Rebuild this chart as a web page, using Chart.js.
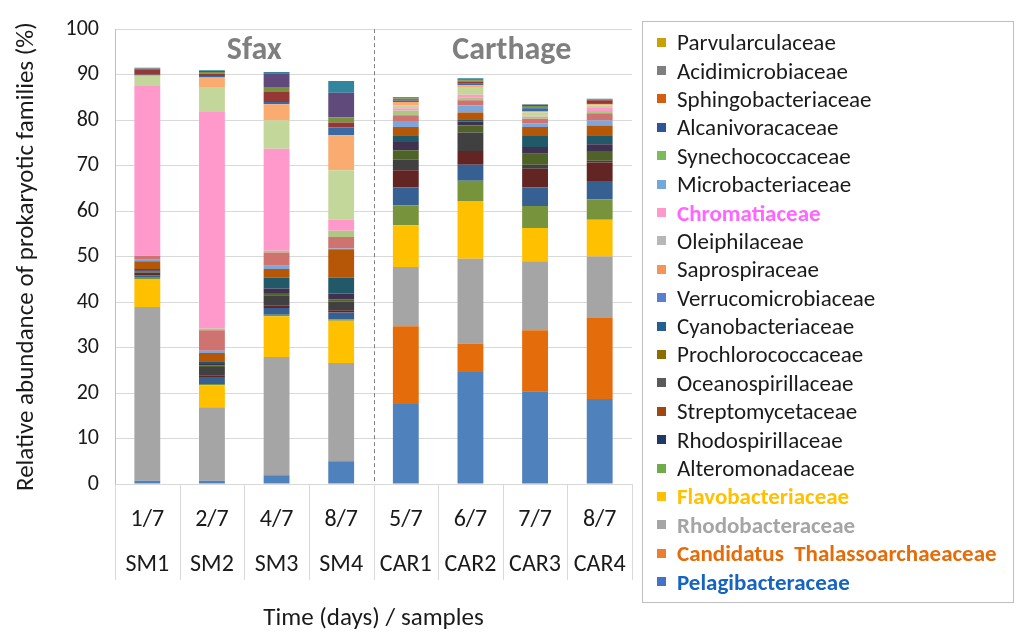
<!DOCTYPE html>
<html>
<head>
<meta charset="utf-8">
<script src="https://cdn.jsdelivr.net/npm/chart.js@4.4.1/dist/chart.umd.min.js"></script>
<style>
  html, body { margin: 0; padding: 0; background: #fff; }
  #wrap { position: relative; width: 1017px; height: 634px; }
  #chart { position: absolute; left: 0; top: 0; }
  #legend {
    position: absolute; left: 642px; top: 21px; width: 372px; height: 582px;
    box-sizing: border-box; border: 1px solid #bfbfbf; padding-top: 6px;
    font-family: Carlito, Lato, sans-serif; font-size: 23px; color: #1a1a1a;
  }
  .item { height: 28.4px; display: flex; align-items: center; padding-left: 14px; white-space: nowrap; }
  .box { width: 9px; height: 9px; margin-right: 11px; flex: none; }
</style>
</head>
<body>
<div id="wrap">
  <canvas id="chart" width="1017" height="634"></canvas>
  <div id="legend"></div>
</div>
<script>
const dates   = ['1/7', '2/7', '4/7', '8/7', '5/7', '6/7', '7/7', '8/7'];
const samples = ['SM1', 'SM2', 'SM3', 'SM4', 'CAR1', 'CAR2', 'CAR3', 'CAR4'];
const sites   = ['Sfax', 'Carthage'];
const yTicks  = [0, 10, 20, 30, 40, 50, 60, 70, 80, 90, 100];

// relative abundance (%) per sample, stacked from the bottom
const pelagibacteraceae   = [0.7, 0.7, 1.9, 5.0, 17.6, 24.6, 20.4, 18.7];
const thalassoarchaeaceae = [0, 0, 0, 0, 17.1, 6.3, 13.4, 17.8];
const rhodobacteraceae    = [38.2, 16.2, 26.0, 21.6, 13.0, 18.6, 15.2, 13.5];
const flavobacteriaceae   = [6.2, 4.8, 9.0, 9.3, 9.2, 12.7, 7.3, 8.1];
const alteromonadaceae    = [0.4, 0.3, 0.3, 0.3, 4.4, 4.5, 4.8, 4.5];
const rhodospirillaceae   = [0.4, 1.5, 1.5, 1.5, 3.9, 3.5, 4.1, 4.0];
const streptomycetaceae   = [0.3, 0.4, 0.5, 0.5, 3.8, 3.0, 4.1, 4.1];
const oceanospirillaceae  = [0.3, 1.8, 2.3, 1.9, 2.3, 4.1, 0.9, 0.4];
const prochlorococcaceae  = [0.3, 0.4, 0.5, 0.5, 2.1, 1.5, 2.4, 2.1];
const cyanobacteriaceae   = [0.2, 0.3, 1.0, 1.3, 1.8, 0.9, 1.5, 1.5];
const verrucomicrobiaceae = [0.3, 0.6, 2.4, 3.5, 1.5, 0.5, 2.4, 2.0];
const saprospiraceae      = [1.7, 1.8, 1.9, 6.2, 1.8, 1.5, 2.0, 2.1];
const oleiphilaceae       = [0.3, 0.5, 0.7, 0.2, 1.3, 1.5, 0.8, 1.1];
const microbacteriaceae   = [0.9, 4.5, 2.9, 2.5, 1.3, 1.2, 1.0, 1.6];
const synechococcaceae    = [0.1, 0.4, 0.4, 1.4, 1.0, 0.5, 0.5, 0.5];
const chromatiaceae       = [37.2, 47.6, 22.4, 2.4, 0.5, 0.7, 0.2, 0.7];
const alcanivoracaceae    = [2.2, 5.5, 6.2, 10.9, 0.7, 1.7, 0.7, 0.5];
const sphingobacteriaceae = [0.1, 2.1, 3.6, 7.7, 0.7, 0.4, 0.2, 0.3];
const acidimicrobiaceae   = [0.2, 0.3, 0.5, 1.7, 0.3, 0.3, 0.7, 0.3];
const parvularculaceae    = [1.2, 0.5, 2.2, 1.1, 0.3, 0.5, 0.2, 0.6];
const otherA              = [0.1, 0.4, 1.1, 1.1, 0.2, 0.3, 0.3, 0.1];
const otherB              = [0.1, 0.2, 3.0, 5.4, 0.2, 0.2, 0.3, 0.1];
const otherC              = [0.1, 0.2, 0.3, 2.6, 0.1, 0.2, 0.1, 0.1];

const series = [
  ['Pelagibacteraceae', pelagibacteraceae, '#4F81BD'],
  ['Candidatus Thalassoarchaeaceae', thalassoarchaeaceae, '#E46C0A'],
  ['Rhodobacteraceae', rhodobacteraceae, '#A5A5A5'],
  ['Flavobacteriaceae', flavobacteriaceae, '#FFC000'],
  ['Alteromonadaceae', alteromonadaceae, '#77933C'],
  ['Rhodospirillaceae', rhodospirillaceae, '#376092'],
  ['Streptomycetaceae', streptomycetaceae, '#632523'],
  ['Oceanospirillaceae', oceanospirillaceae, '#404040'],
  ['Prochlorococcaceae', prochlorococcaceae, '#4F6228'],
  ['Cyanobacteriaceae', cyanobacteriaceae, '#403151'],
  ['Verrucomicrobiaceae', verrucomicrobiaceae, '#215968'],
  ['Saprospiraceae', saprospiraceae, '#B65708'],
  ['Oleiphilaceae', oleiphilaceae, '#7EA6DA'],
  ['Microbacteriaceae', microbacteriaceae, '#CF7370'],
  ['Synechococcaceae', synechococcaceae, '#AFC785'],
  ['Chromatiaceae', chromatiaceae, '#FF99CC'],
  ['Alcanivoracaceae', alcanivoracaceae, '#C4D79B'],
  ['Sphingobacteriaceae', sphingobacteriaceae, '#FAAB70'],
  ['Acidimicrobiaceae', acidimicrobiaceae, '#3A6AA3'],
  ['Parvularculaceae', parvularculaceae, '#953735'],
  ['Other A', otherA, '#77933C'],
  ['Other B', otherB, '#604A7B'],
  ['Other C', otherC, '#31859C'],
];

// legend as printed in the figure (top to bottom)
const legendNames = ['Parvularculaceae', 'Acidimicrobiaceae', 'Sphingobacteriaceae', 'Alcanivoracaceae',
  'Synechococcaceae', 'Microbacteriaceae', 'Chromatiaceae', 'Oleiphilaceae', 'Saprospiraceae',
  'Verrucomicrobiaceae', 'Cyanobacteriaceae', 'Prochlorococcaceae', 'Oceanospirillaceae',
  'Streptomycetaceae', 'Rhodospirillaceae', 'Alteromonadaceae', 'Flavobacteriaceae',
  'Rhodobacteraceae', 'Candidatus\u00a0 Thalassoarchaeaceae', 'Pelagibacteraceae'];
const legendColors = ['#C9A005', '#7F7F7F', '#D45E0E', '#2F5597', '#7DBB5A', '#72A8DA', '#FF99CC',
  '#B7B7B7', '#F4945A', '#5B7FCF', '#255E91', '#8C6D00', '#5A5A5A', '#9E480E', '#203864',
  '#6FAC46', '#FFC000', '#A5A5A5', '#ED7D31', '#4472C4'];
const legendText = {
  'Chromatiaceae': '#FF66FF', 'Flavobacteriaceae': '#FFC000', 'Rhodobacteraceae': '#A5A5A5',
  'Candidatus\u00a0 Thalassoarchaeaceae': '#E46C0A', 'Pelagibacteraceae': '#1565C0'
};

const legendEl = document.getElementById('legend');
legendNames.forEach((name, i) => {
  const row = document.createElement('div');
  row.className = 'item';
  const box = document.createElement('span');
  box.className = 'box';
  box.style.background = legendColors[i];
  const txt = document.createElement('span');
  txt.textContent = name;
  if (legendText[name]) { txt.style.color = legendText[name]; txt.style.fontWeight = 'bold'; }
  row.appendChild(box);
  row.appendChild(txt);
  legendEl.appendChild(row);
});

const FONT = 'Carlito, Lato, sans-serif';

const decor = {
  id: 'decor',
  afterDraw(chart) {
    const { ctx, chartArea, scales: { x } } = chart;
    const half = (x.getPixelForValue(1) - x.getPixelForValue(0)) / 2;
    ctx.save();
    // category separators under the axis
    ctx.strokeStyle = '#d9d9d9';
    ctx.lineWidth = 1;
    for (let i = 0; i <= samples.length; i++) {
      const px = Math.round(x.getPixelForValue(i) - half) + 0.5;
      ctx.beginPath();
      ctx.moveTo(px, chartArea.bottom);
      ctx.lineTo(px, chartArea.bottom + 96);
      ctx.stroke();
    }
    // dashed split between sites
    const split = Math.round(x.getPixelForValue(3) + half) + 0.5;
    ctx.strokeStyle = '#808080';
    ctx.setLineDash([4, 3]);
    ctx.beginPath();
    ctx.moveTo(split, chartArea.top);
    ctx.lineTo(split, chartArea.bottom);
    ctx.stroke();
    ctx.setLineDash([]);
    // site names
    ctx.fillStyle = '#7f7f7f';
    ctx.font = 'bold 32px ' + FONT;
    ctx.textAlign = 'center';
    ctx.textBaseline = 'middle';
    ctx.fillText(sites[0], (x.getPixelForValue(1) + x.getPixelForValue(2)) / 2 + 10, chartArea.top + 22);
    ctx.fillText(sites[1], (x.getPixelForValue(5) + x.getPixelForValue(6)) / 2 + 9, chartArea.top + 22);
    ctx.restore();
  }
};

new Chart(document.getElementById('chart'), {
  type: 'bar',
  data: {
    labels: dates.map((d, i) => [d, samples[i]]),
    datasets: series.map(([label, data, color]) => ({
      label, data, backgroundColor: color, borderWidth: 0,
      barPercentage: 0.4, categoryPercentage: 1.0
    }))
  },
  options: {
    responsive: false,
    animation: false,
    layout: { padding: { top: 21, right: 385, left: 0, bottom: 0 } },
    plugins: { legend: { display: false }, tooltip: { enabled: false } },
    scales: {
      x: {
        stacked: true,
        grid: { display: false },
        border: { display: true, color: '#d9d9d9' },
        afterFit: (scale) => { scale.height = 150; },
        ticks: {
          color: '#1a1a1a', padding: 5, maxRotation: 0, autoSkip: false,
          font: { family: FONT, size: 24, lineHeight: 1.875 }
        },
        title: {
          display: true, text: 'Time (days) / samples', color: '#1a1a1a',
          font: { family: FONT, size: 25 }, padding: { top: 0, bottom: 0 }
        }
      },
      y: {
        stacked: true,
        min: 0, max: 100,
        afterFit: (scale) => { scale.width = 115; },
        afterBuildTicks: (scale) => { scale.ticks = yTicks.map(v => ({ value: v })); },
        grid: { color: '#d9d9d9', drawTicks: false },
        border: { display: true, color: '#bfbfbf' },
        ticks: { color: '#1a1a1a', padding: 16, font: { family: FONT, size: 22 } },
        title: {
          display: true, text: 'Relative abundance of prokaryotic families (%)', color: '#1a1a1a',
          font: { family: FONT, size: 25 }, padding: { top: 12, bottom: 0 }
        }
      }
    }
  },
  plugins: [decor]
});
</script>
</body>
</html>
